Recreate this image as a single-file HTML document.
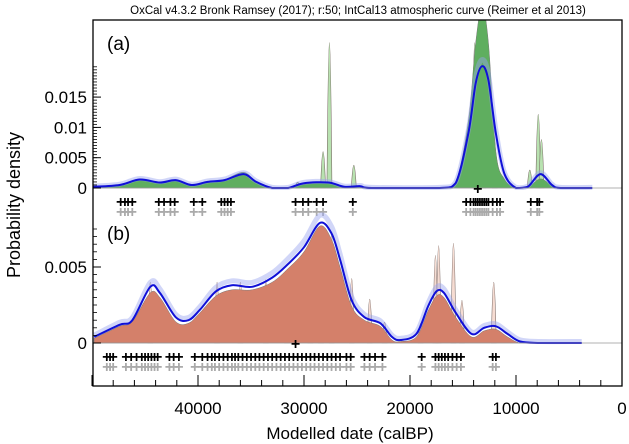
<!DOCTYPE html>
<html><head><meta charset="utf-8"><style>
body{margin:0;background:#fff}
svg{display:block;font-family:"Liberation Sans",sans-serif}
</style></head><body>
<svg id="c" width="629" height="444"></svg>
<script>
// x-axis: date (calBP)
const xTicks=[40000,30000,20000,10000,0];
const xTickLabels=["40000","30000","20000","10000","0"];
// panel a
const aDates=[49.9,47.4,45.5,43.6,42.1,40.6,39.1,37.5,35.7,34.5,33.0,31.5,30.0,27.7,26.2,24.7,23.6,17.2,15.7,14.5,13.8,13.2,12.6,11.9,11.1,10.0,8.9,7.7,6.6,5.8,2.8];
const aBlue=[0.0002,0.0005,0.0014,0.0009,0.0013,0.0005,0.001,0.0013,0.0023,0.001,0,0,0.0008,0.0009,0.0002,0.0003,0,0,0.0008,0.009,0.0173,0.0201,0.0178,0.009,0.0024,0,0.0002,0.0023,0.0005,0,0];
const aFill=[0.0002,0.0005,0.0015,0.0009,0.0013,0.0006,0.001,0.0014,0.0026,0.001,0,0,0.0006,0.0009,0.0002,0.0004,0,0,0.001,0.011,0.024,0.03,0.024,0.006,0.0015,0,0.0001,0.0015,0.0004,0,0];
const aSpikeDates=[30.6,28.2,27.6,25.3,13.9,13.1,12.0,8.7,7.9,7.6];
const aSpikeVals=[0.0012,0.0075,0.03,0.0047,0.03,0.03,0.004,0.0037,0.0152,0.01];
const aCross=[47.3,46.9,46.6,46.2,43.7,43.2,42.6,42.2,40.4,39.6,37.8,37.5,37.2,36.9,30.8,30.1,29.6,28.8,28.2,25.4,14.7,14.3,14.0,13.8,13.6,13.4,13.2,13.0,12.8,12.6,12.2,11.8,11.5,8.6,8.0,7.8];
// panel b
const bDates=[49.8,47.4,46.2,44.5,43.6,42.1,40.9,39.8,38.3,36.8,34.9,33.0,31.5,30.0,28.5,27.4,26.6,25.5,24.3,22.8,21.7,20.9,19.4,18.3,17.5,16.8,15.7,14.2,13.0,11.9,10.8,9.6,7.7,3.8];
const bBlue=[0.0004,0.0012,0.0015,0.0037,0.0033,0.0017,0.0015,0.0022,0.0034,0.0038,0.0037,0.0043,0.0052,0.0063,0.0079,0.0072,0.0055,0.0028,0.0017,0.0013,0.0004,0.0002,0.0006,0.0024,0.0034,0.0033,0.002,0.0006,0.001,0.0011,0.0006,0.0001,0,0];
const bFill=[0.0003,0.0011,0.0014,0.0033,0.003,0.0014,0.0013,0.002,0.0031,0.0035,0.0035,0.004,0.0049,0.006,0.0077,0.0068,0.005,0.0024,0.0015,0.0011,0.0002,0.0001,0.0004,0.0021,0.0031,0.003,0.0017,0.0004,0.0008,0.0009,0.0004,0,0,0];
const bSpikeDates=[44.5,38.2,36.0,33.6,31.6,29.4,28.4,27.4,25.5,23.8,22.4,19.0,17.6,17.3,15.9,15.1,12.1];
const bSpikeVals=[0.005,0.005,0.005,0.0052,0.0058,0.0075,0.0085,0.009,0.0053,0.0036,0.0017,0.0016,0.0072,0.008,0.0082,0.0035,0.005];
const bCross=[48.6,48.3,48.0,46.8,46.3,45.8,45.3,45.0,44.7,44.4,44.1,43.8,42.7,42.3,41.8,40.3,39.6,39.1,38.7,38.4,38.0,37.6,37.2,36.8,36.5,36.2,35.8,35.4,35.0,34.6,34.2,33.8,33.4,33.0,32.6,32.2,31.8,31.4,31.0,30.6,30.2,29.8,29.4,29.0,28.6,28.2,27.8,27.4,27.0,26.6,26.0,25.6,24.3,23.8,23.3,22.6,18.9,17.6,17.3,17.0,16.7,16.4,16.0,15.6,15.2,12.2,11.9];

const svg=document.getElementById('c');const NS='http://www.w3.org/2000/svg';
function el(t,a,p){const e=document.createElementNS(NS,t);for(const k in a)e.setAttribute(k,a[k]);(p||svg).appendChild(e);return e;}
const L=93,R=622;
function X(d){return 622-d*10.6;} // d in thousands
function XY(v){return 622-v/1000*10.6;}
const A={z:188,s:6060},B={z:343,s:15200};
function path(ds,vs,P,close){
  const pts=ds.map((d,i)=>[X(d),P.z-vs[i]*P.s]);
  let s='M'+pts[0][0].toFixed(1)+','+pts[0][1].toFixed(1);
  for(let i=0;i<pts.length-1;i++){
    const p0=pts[Math.max(0,i-1)],p1=pts[i],p2=pts[i+1],p3=pts[Math.min(pts.length-1,i+2)];
    let c1y=p1[1]+(p2[1]-p0[1])/6,c2y=p2[1]-(p3[1]-p1[1])/6;
    c1y=Math.min(c1y,P.z);c2y=Math.min(c2y,P.z);
    s+='C'+(p1[0]+(p2[0]-p0[0])/6).toFixed(1)+','+c1y.toFixed(1)+' '+(p2[0]-(p3[0]-p1[0])/6).toFixed(1)+','+c2y.toFixed(1)+' '+p2[0].toFixed(1)+','+p2[1].toFixed(1);
  }
  if(close)s+='L'+X(ds[ds.length-1])+','+P.z+'L'+X(ds[0])+','+P.z+'Z';
  return s;}
const clipA=el('clipPath',{id:'ca'});el('rect',{x:L,y:20,width:R-L,height:170},clipA);
const clipB=el('clipPath',{id:'cb'});el('rect',{x:L,y:200,width:R-L,height:145},clipB);

function panel(P,ds,blue,fill,sd,sv,cross,fillCol,spikeCol,clip,name,plus){
  const g=el('g',{'clip-path':'url(#'+clip+')'});
  
  sd.forEach((d,i)=>{const p=el('path',{d:'M'+(X(d)-2.5)+','+P.z+'Q'+X(d)+','+(P.z-sv[i]*P.s*1.6)+' '+(X(d)+2.5)+','+P.z+'Z',fill:spikeCol,stroke:'#7a6a66','stroke-width':0.6},g);
    });
  const f=el('path',{d:path(ds,fill,P,true),fill:fillCol,stroke:'#777','stroke-width':0.5},g);
  
  const env=el('path',{d:path(ds,blue.map(v=>v*1.05+0.0001),P,false),fill:'none',stroke:'#9aa4f0','stroke-width':5,opacity:0.45},g);
  
  const ln=el('path',{d:path(ds,blue,P,false),fill:'none',stroke:'#1010d8','stroke-width':2},g);
  
  const zl=el('line',{x1:L,x2:R,y1:P.z,y2:P.z,stroke:'#999','stroke-width':0.8});
  
  cross.forEach(d=>{[[P.z+13,'#000'],[P.z+23,'#aaa']].forEach(([y,c])=>{
    const t=el('text',{x:X(d),y:y+6,'text-anchor':'middle','font-size':16,'font-weight':'bold',fill:c});t.textContent='+';
    });});
  const pt=el('text',{x:X(plus),y:P.z+6,'text-anchor':'middle','font-size':16,'font-weight':'bold'});pt.textContent='+';
  
}
panel(A,aDates,aBlue,aFill,aSpikeDates,aSpikeVals,aCross,'#5fae5f','#b8e2b0','ca','panel-a',13.6);
panel(B,bDates,bBlue,bFill,bSpikeDates,bSpikeVals,bCross,'#d4806a','#f6dcd2','cb','panel-b',30.8);

const fr=el('rect',{x:L,y:20,width:R-L,height:366,fill:'none',stroke:'#000','stroke-width':1.3});

// y ticks
const aYT=[0,0.005,0.01,0.015],aYL=["0","0.005","0.01","0.015"];
const bYT=[0,0.005],bYL=["0","0.005"];
function yAxis(P,ticks,labs,maxv,name){
  for(let v=0;v<=maxv+1e-9;v+=0.0005){const y=P.z-v*P.s;if(y<22)break;const t=el('line',{x1:L,x2:L+4,y1:y,y2:y,stroke:'#000','stroke-width':0.8});}
  ticks.forEach((v,i)=>{const y=P.z-v*P.s;el('line',{x1:L,x2:L+8,y1:y,y2:y,stroke:'#000','stroke-width':1});
    const t=el('text',{x:L-6,y:y+6,'text-anchor':'end','font-size':17});t.textContent=labs[i];
    });
}
yAxis(A,aYT,aYL,0.02,'panel-a-y');yAxis(B,bYT,bYL,0.0075,'panel-b-y');
for(let d=50000;d>=0;d-=2000){const x=XY(d);el('line',{x1:x,x2:x,y1:386,y2:d%10000==0?375:380,stroke:'#000','stroke-width':1});}
xTicks.forEach((d,i)=>{const t=el('text',{x:XY(d),y:414,'text-anchor':'middle','font-size':17});t.textContent=xTickLabels[i];
  });
function txt(x,y,s,fs,n,extra){const t=el('text',Object.assign({x:x,y:y,'font-size':fs},extra||{}));t.textContent=s;return t;}
txt(350,439,'Modelled date (calBP)',17,'x-axis-title',{'text-anchor':'middle'});
txt(20,205,'Probability density',18,'y-axis-title',{'text-anchor':'middle',transform:'rotate(-90 20 205)'});
txt(358,14,'OxCal v4.3.2 Bronk Ramsey (2017); r:50; IntCal13 atmospheric curve (Reimer et al 2013)',11.5,'chart-title',{'text-anchor':'middle'});
txt(107,50,'(a)',19,'panel-a-label');txt(107,240,'(b)',19,'panel-b-label');
</script>
</body></html>
